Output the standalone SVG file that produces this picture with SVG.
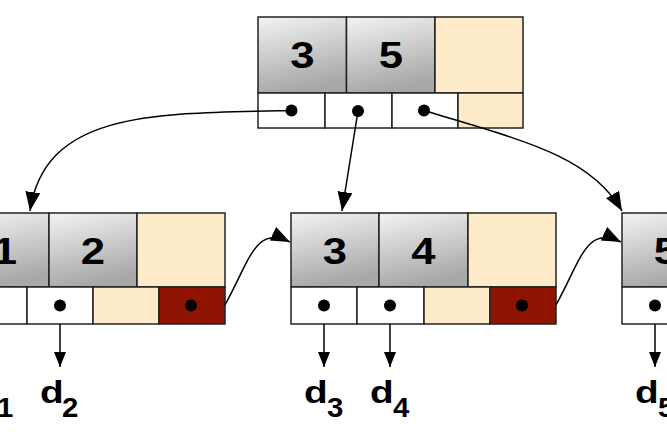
<svg xmlns="http://www.w3.org/2000/svg" width="667" height="441" viewBox="0 0 667 441">
<defs>
<linearGradient id="g" x1="0" y1="0" x2="0.25" y2="1">
<stop offset="0" stop-color="#f3f3f3"/>
<stop offset="1" stop-color="#a8a8a8"/>
</linearGradient>
<marker id="ah" markerUnits="userSpaceOnUse" markerWidth="22" markerHeight="18" refX="19" refY="7.5" orient="auto">
<path d="M0,0 L19,7.5 L0,15 z" fill="#000"/>
</marker>
<marker id="ahs" markerUnits="userSpaceOnUse" markerWidth="16" markerHeight="14" refX="15" refY="6" orient="auto">
<path d="M0,0 L15,6 L0,12 z" fill="#000"/>
</marker>
</defs>
<style>
.key{fill:url(#g);stroke:#222;stroke-width:1.5}
.emp{fill:#feebc9;stroke:#222;stroke-width:1.5}
.ptr{fill:#fff;stroke:#222;stroke-width:1.5}
.red{fill:#8e1300;stroke:#222;stroke-width:1.5}
.dot{fill:#000}
.kt{font-family:"Liberation Sans",Arial,sans-serif;font-weight:bold;font-size:37px;fill:#000;text-anchor:middle}
.lt{font-family:"Liberation Sans",Arial,sans-serif;font-weight:bold;font-size:31px;fill:#000}
.st{font-family:"Liberation Sans",Arial,sans-serif;font-weight:bold;font-size:28px;fill:#000}
.c{fill:none;stroke:#000;stroke-width:1.5}
</style>

<g id="root">
<rect class="key" x="258" y="17" width="88.5" height="76"/>
<rect class="key" x="346.5" y="17" width="88.5" height="76"/>
<rect class="emp" x="435" y="17" width="88" height="76"/>
<rect class="ptr" x="258" y="93" width="67" height="35"/>
<rect class="ptr" x="325" y="93" width="67" height="35"/>
<rect class="ptr" x="392" y="93" width="66" height="35"/>
<rect class="emp" x="458" y="93" width="65" height="35"/>
<text class="kt" transform="translate(302.5,68) scale(1.18,1)">3</text>
<text class="kt" transform="translate(391,68) scale(1.18,1)">5</text>
<circle class="dot" cx="291.5" cy="110.5" r="6"/>
<circle class="dot" cx="358" cy="111" r="6"/>
<circle class="dot" cx="424" cy="110.5" r="6"/>
</g>

<g id="leaf1">
<rect class="key" x="-39" y="213" width="88" height="74"/>
<rect class="key" x="49" y="213" width="88" height="74"/>
<rect class="emp" x="137" y="213" width="88" height="74"/>
<rect class="ptr" x="-39" y="287" width="66" height="37"/>
<rect class="ptr" x="27" y="287" width="66" height="37"/>
<rect class="emp" x="93" y="287" width="66" height="37"/>
<rect class="red" x="159" y="287" width="66" height="37"/>
<text class="kt" transform="translate(5,264) scale(1.18,1)">1</text>
<text class="kt" transform="translate(93,264) scale(1.18,1)">2</text>
<circle class="dot" cx="-6" cy="305.5" r="6"/>
<circle class="dot" cx="60" cy="305.5" r="6"/>
<circle class="dot" cx="191" cy="305.5" r="6"/>
</g>

<g id="leaf2">
<rect class="key" x="291" y="213" width="88" height="74"/>
<rect class="key" x="379" y="213" width="89" height="74"/>
<rect class="emp" x="468" y="213" width="88" height="74"/>
<rect class="ptr" x="291" y="287" width="66" height="37"/>
<rect class="ptr" x="357" y="287" width="67" height="37"/>
<rect class="emp" x="424" y="287" width="66" height="37"/>
<rect class="red" x="490" y="287" width="66" height="37"/>
<text class="kt" transform="translate(335,264) scale(1.18,1)">3</text>
<text class="kt" transform="translate(423.5,264) scale(1.18,1)">4</text>
<circle class="dot" cx="324" cy="305.5" r="6"/>
<circle class="dot" cx="390" cy="305.5" r="6"/>
<circle class="dot" cx="522" cy="305.5" r="6"/>
</g>

<g id="leaf3">
<rect class="key" x="622" y="213" width="88" height="74"/>
<rect class="ptr" x="622" y="287" width="66" height="37"/>
<text class="kt" transform="translate(666,264) scale(1.18,1)">5</text>
<circle class="dot" cx="655" cy="305.5" r="6"/>
</g>

<g id="labels">
<g transform="translate(-26,403)"><text class="lt" transform="scale(1.25,1)">d</text><text class="st" x="22" y="14" transform="scale(1.05,1)">1</text></g>
<g transform="translate(40,403)"><text class="lt" transform="scale(1.25,1)">d</text><text class="st" x="21" y="14" transform="scale(1.05,1)">2</text></g>
<g transform="translate(304,403)"><text class="lt" transform="scale(1.25,1)">d</text><text class="st" x="22" y="14" transform="scale(1.05,1)">3</text></g>
<g transform="translate(370,403)"><text class="lt" transform="scale(1.25,1)">d</text><text class="st" x="22" y="14" transform="scale(1.05,1)">4</text></g>
<g transform="translate(635,403)"><text class="lt" transform="scale(1.25,1)">d</text><text class="st" x="22" y="14" transform="scale(1.05,1)">5</text></g>
</g>

<g id="connectors">
<path class="c" d="M291.5,110.5 C150,113 45,112 30,211" marker-end="url(#ah)"/>
<path class="c" d="M358,111 L342,211" marker-end="url(#ah)"/>
<path class="c" d="M424,110.5 C520,140 590,155 622,211" marker-end="url(#ah)"/>
<path class="c" d="M225,305 C250,260 255,225 290,242" marker-end="url(#ah)"/>
<path class="c" d="M556,305 C581,260 586,225 621,242" marker-end="url(#ah)"/>
<path class="c" d="M-6,324 L-6,367" marker-end="url(#ahs)"/>
<path class="c" d="M60,324 L60,367" marker-end="url(#ahs)"/>
<path class="c" d="M324,324 L324,367" marker-end="url(#ahs)"/>
<path class="c" d="M390,324 L390,367" marker-end="url(#ahs)"/>
<path class="c" d="M655,324 L655,367" marker-end="url(#ahs)"/>
</g>
</svg>
